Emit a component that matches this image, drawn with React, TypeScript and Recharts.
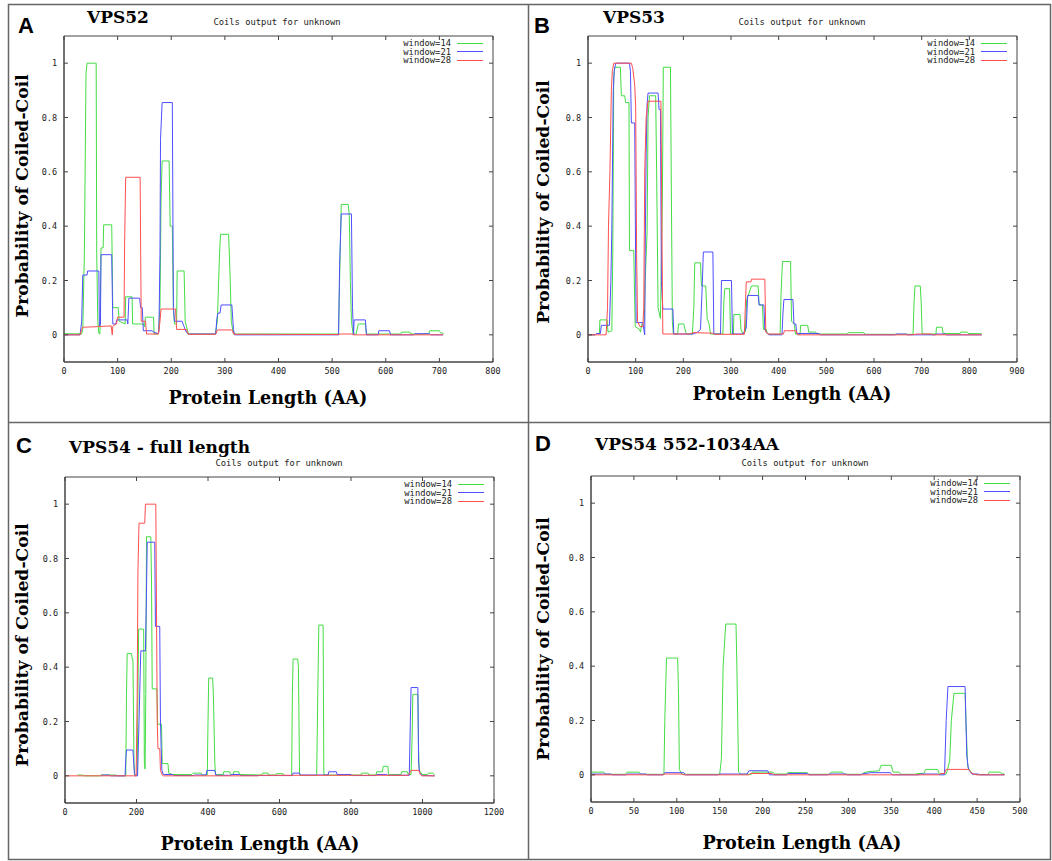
import { LineChart, Line, XAxis, YAxis, Legend, ReferenceArea, ReferenceLine } from 'recharts';

type Pt = [number, number];

const seriesNames = ['window=14', 'window=21', 'window=28'];
const seriesColors = ['#44dd44', '#4f4fff', '#ff4f4f'];
const yTicks = [0, 0.2, 0.4, 0.6, 0.8, 1];
const yDomain: [number, number] = [-0.1, 1.1];

// VPS52
const vps52XTicks = [0, 100, 200, 300, 400, 500, 600, 700, 800];
const vps52W14: Pt[] = [[0,0.004],[30,0.004],[33,0.003],[35,0.02],[38,0.3],[41,0.96],[43,1],[60,1],[61,0.3],[63,0.05],[65,0.005],[67,0.003],[69,0.32],[73,0.32],[74,0.405],[89,0.405],[91,0.1],[101,0.1],[103,0.05],[114,0.04],[115,0.14],[127,0.14],[128,0.04],[148,0.04],[150,0.03],[152,0.065],[167,0.065],[168,0.003],[176,0.003],[179,0.1],[181,0.5],[183,0.64],[196,0.64],[198,0.4],[202,0.4],[204,0.1],[206,0.04],[210,0.04],[211,0.235],[224,0.235],[226,0.05],[232,0.003],[282,0.003],[286,0.05],[290,0.3],[292,0.37],[307,0.37],[310,0.2],[312,0.05],[316,0.003],[512,0.003],[515,0.3],[517,0.48],[530,0.48],[532,0.44],[534,0.2],[536,0.05],[539,0.003],[545,0.003],[547,0.025],[549,0.04],[562,0.04],[564,0.003],[628,0.003],[630,0.01],[645,0.01],[647,0.003],[680,0.003],[682,0.015],[700,0.015],[702,0.008],[708,0.005]];
const vps52W21: Pt[] = [[0,0],[30,0],[33,0.05],[35,0.22],[43,0.22],[44,0.235],[65,0.235],[66,0.03],[68,0.04],[69,0.295],[89,0.295],[91,0.04],[97,0.04],[98,0.055],[118,0.055],[119,0.04],[121,0.135],[141,0.135],[143,0.1],[146,0.1],[148,0.015],[165,0.015],[167,0.01],[175,0.005],[177,0.01],[179,0.3],[180,0.72],[183,0.855],[202,0.855],[204,0.1],[206,0.05],[220,0.05],[224,0.03],[228,0.01],[232,0.003],[283,0.003],[285,0.06],[287,0.08],[291,0.08],[293,0.11],[313,0.11],[316,0.02],[318,0],[512,0],[514,0.26],[517,0.445],[536,0.445],[538,0.1],[540,0],[541,0.055],[562,0.055],[564,0],[586,0],[587,0.015],[607,0.015],[609,0],[652,0],[654,0.004],[682,0.004],[684,0],[707,0]];
const vps52W28: Pt[] = [[0,0],[30,0],[33,0.02],[35,0.028],[62,0.03],[88,0.033],[89,0.015],[90,0],[91,0.03],[93,0.035],[98,0.04],[100,0.065],[112,0.065],[113,0.33],[115,0.58],[142,0.58],[143,0.3],[144,0.05],[152,0.05],[154,0.003],[176,0.003],[179,0.05],[181,0.095],[208,0.095],[210,0.02],[228,0.02],[232,0.002],[283,0.002],[286,0.018],[313,0.018],[317,0.002],[512,0.001],[515,0.003],[537,0.003],[540,0],[707,0]];

// VPS53
const vps53XTicks = [0, 100, 200, 300, 400, 500, 600, 700, 800, 900];
const vps53W14: Pt[] = [[0,0],[15,0],[18,0.005],[24,0.005],[25,0.055],[40,0.055],[42,0.01],[50,0.015],[52,0.3],[54,0.95],[56,0.985],[68,0.985],[70,0.88],[77,0.88],[79,0.855],[86,0.855],[87,0.31],[96,0.31],[99,0.03],[108,0.02],[110,0.01],[113,0.04],[118,0.05],[120,0.2],[124,0.38],[126,0.8],[129,0.88],[142,0.88],[144,0.6],[147,0.1],[152,0.06],[156,0.5],[158,0.985],[173,0.985],[175,0.5],[177,0.05],[179,0.003],[188,0.003],[190,0.04],[201,0.04],[205,0.01],[207,0.003],[219,0.003],[222,0.1],[224,0.265],[236,0.265],[238,0.18],[247,0.18],[250,0.06],[254,0.04],[257,0.003],[283,0.003],[285,0.12],[287,0.17],[297,0.17],[299,0.003],[305,0.003],[306,0.075],[319,0.075],[321,0.02],[325,0.003],[330,0.01],[333,0.13],[343,0.18],[357,0.18],[359,0.11],[366,0.11],[368,0.02],[374,0.02],[376,0.005],[380,0.002],[403,0.002],[405,0.15],[408,0.27],[425,0.27],[427,0.05],[433,0.04],[435,0.003],[445,0.003],[446,0.035],[461,0.035],[463,0.01],[478,0.01],[480,0.003],[544,0.003],[546,0.008],[579,0.008],[581,0.002],[682,0.002],[684,0.12],[686,0.18],[697,0.18],[699,0.12],[701,0.003],[730,0.003],[731,0.028],[743,0.028],[745,0.005],[781,0.005],[782,0.01],[796,0.01],[798,0.005],[826,0.004]];
const vps53W21: Pt[] = [[0,0],[15,0],[18,0.005],[26,0.005],[28,0.035],[45,0.035],[48,0.2],[50,0.39],[53,0.9],[55,0.97],[58,1],[87,1],[89,0.97],[91,0.78],[98,0.78],[100,0.25],[101,0.045],[115,0.045],[117,0.02],[119,0],[120,0.3],[122,0.67],[124,0.85],[126,0.89],[147,0.89],[149,0.83],[152,0.83],[154,0.2],[157,0.095],[178,0.095],[180,0.003],[220,0.003],[230,0.01],[236,0.02],[239,0.15],[242,0.305],[262,0.305],[264,0.003],[278,0.003],[280,0.2],[301,0.2],[303,0.003],[325,0.003],[332,0.025],[335,0.145],[357,0.145],[359,0.11],[369,0.11],[371,0.02],[376,0.005],[380,0],[407,0],[409,0.08],[411,0.13],[430,0.13],[432,0.04],[436,0.04],[438,0.005],[485,0.005],[487,0],[645,0],[646,0.003],[668,0.003],[670,0],[729,0],[730,0.003],[750,0.003],[752,0],[826,0]];
const vps53W28: Pt[] = [[0,0],[38,0],[41,0.1],[43,0.4],[46,0.6],[49,0.9],[51,0.97],[54,1],[91,1],[94,0.98],[98,0.92],[100,0.84],[102,0.3],[104,0.05],[109,0.03],[115,0.03],[117,0.1],[119,0.6],[122,0.8],[126,0.86],[153,0.86],[155,0.4],[157,0.003],[213,0.003],[220,0.008],[262,0.006],[265,0.002],[328,0.002],[330,0.1],[332,0.195],[342,0.195],[343,0.205],[371,0.205],[373,0.01],[378,0.003],[410,0.003],[412,0.015],[437,0.015],[440,0],[680,0],[690,0.003],[720,0.003],[722,0],[826,0]];

// VPS54 full length
const vps54XTicks = [0, 200, 400, 600, 800, 1000, 1200];
const vps54W14: Pt[] = [[35,0.003],[50,0.003],[52,0],[97,0],[100,0.003],[144,0.003],[146,0],[170,0],[172,0.3],[174,0.45],[186,0.45],[188,0.43],[190,0.43],[193,0.05],[195,0.003],[202,0.003],[204,0.3],[206,0.54],[220,0.54],[222,0.05],[224,0.025],[226,0.3],[228,0.88],[240,0.88],[242,0.72],[244,0.32],[257,0.32],[259,0.19],[270,0.19],[272,0.045],[288,0.045],[290,0.01],[300,0.005],[355,0.005],[358,0.01],[381,0.01],[383,0.003],[398,0.003],[400,0.2],[402,0.36],[413,0.36],[415,0.3],[419,0.05],[421,0.005],[443,0.005],[444,0.015],[461,0.015],[463,0.005],[471,0.005],[472,0.015],[486,0.015],[488,0.005],[550,0.003],[553,0.01],[568,0.01],[570,0.003],[590,0.003],[591,0.008],[610,0.008],[612,0.001],[634,0.001],[636,0.3],[638,0.43],[651,0.43],[653,0.4],[656,0.01],[658,0.001],[704,0.001],[707,0.3],[710,0.555],[722,0.555],[724,0.005],[740,0.003],[828,0.003],[830,0.01],[848,0.01],[850,0.003],[870,0.003],[872,0.015],[888,0.015],[890,0.035],[903,0.035],[905,0.005],[940,0.005],[942,0.015],[958,0.015],[960,0.005],[968,0.005],[971,0.15],[973,0.3],[987,0.3],[989,0.1],[991,0.02],[999,0.005],[1014,0.005],[1016,0.01],[1029,0.01],[1034,0.003]];
const vps54W21: Pt[] = [[100,0],[104,0.003],[125,0.003],[127,0],[168,0],[170,0.06],[172,0.095],[190,0.095],[194,0.01],[196,0],[203,0],[207,0.2],[212,0.46],[225,0.46],[227,0.6],[230,0.86],[251,0.86],[253,0.55],[265,0.55],[267,0.21],[269,0.1],[271,0.02],[275,0.005],[302,0.005],[304,0.001],[360,0.001],[362,0.003],[395,0.003],[397,0.02],[419,0.02],[422,0.002],[465,0.002],[466,0.005],[489,0.005],[491,0.001],[636,0.001],[638,0.01],[656,0.01],[658,0.003],[736,0.003],[738,0.015],[759,0.015],[761,0.005],[800,0.005],[802,0.001],[870,0.001],[872,0.005],[900,0.005],[902,0.002],[963,0.002],[966,0.2],[968,0.325],[987,0.325],[989,0.05],[992,0.01],[1000,0.001],[1034,0]];
const vps54W28: Pt[] = [[0,0],[199,0],[202,0.3],[204,0.75],[207,0.93],[223,0.93],[225,1],[254,1],[256,0.6],[258,0.2],[260,0.1],[265,0.1],[267,0.02],[272,0.003],[275,0],[540,0],[545,0.002],[960,0.002],[964,0.01],[968,0.02],[990,0.02],[994,0.005],[998,0],[1034,0]];

// VPS54 552-1034AA
const vps54cXTicks = [0, 50, 100, 150, 200, 250, 300, 350, 400, 450, 500];
const vps54cW14: Pt[] = [[0,0.01],[15,0.01],[17,0.002],[40,0.002],[42,0.01],[56,0.01],[58,0.002],[85,0.002],[86,0.2],[88,0.43],[101,0.43],[102,0.3],[103,0.02],[106,0.002],[150,0.002],[152,0.06],[154,0.4],[157,0.555],[169,0.555],[170,0.4],[172,0.01],[175,0.002],[187,0.002],[188,0.01],[212,0.01],[214,0.003],[228,0.003],[229,0.008],[252,0.008],[254,0.002],[278,0.002],[280,0.01],[293,0.01],[295,0.002],[316,0.002],[318,0.008],[324,0.012],[336,0.015],[338,0.035],[350,0.035],[352,0.01],[359,0.01],[361,0.002],[378,0.002],[380,0.005],[388,0.005],[390,0.02],[404,0.02],[406,0.003],[414,0.003],[418,0.05],[420,0.2],[423,0.3],[436,0.3],[437,0.2],[439,0.03],[443,0.01],[446,0.001],[463,0.001],[464,0.01],[477,0.01],[479,0.004],[482,0.003]];
const vps54cW21: Pt[] = [[0,0.003],[23,0.003],[25,0],[41,0],[42,0.003],[64,0.003],[66,0],[84,0],[86,0.008],[108,0.008],[110,0],[148,0],[150,0.003],[182,0.003],[184,0.015],[206,0.015],[208,0],[228,0],[230,0.005],[252,0.005],[254,0],[276,0],[278,0.003],[297,0.003],[299,0],[314,0],[316,0.003],[326,0.008],[349,0.008],[351,0],[382,0],[384,0.003],[404,0.003],[406,0],[412,0],[414,0.2],[416,0.325],[436,0.325],[438,0.07],[440,0.02],[444,0.003],[451,0.003],[453,0],[482,0]];
const vps54cW28: Pt[] = [[0,0],[84,0],[86,0.003],[106,0.003],[108,0],[184,0],[186,0.005],[211,0.005],[213,0],[405,0],[408,0.005],[412,0.005],[414,0.02],[440,0.02],[444,0.005],[449,0],[482,0]];

const mono = '"DejaVu Sans Mono", monospace';
const serif = '"DejaVu Serif", serif';
const sans = '"Liberation Sans", Arial, sans-serif';
const axisColor = '#444';
const TICK = 4;

const panels = [
  { key: 'A', left: 0, top: 0, width: 526, height: 420, margin: { top: 36, right: 33, left: 0, bottom: 38 }, yw: 64, xMax: 800, xTicks: vps52XTicks, series: [vps52W14, vps52W21, vps52W28] },
  { key: 'B', left: 526, top: 0, width: 526, height: 420, margin: { top: 36, right: 35, left: 0, bottom: 38 }, yw: 62, xMax: 900, xTicks: vps53XTicks, series: [vps53W14, vps53W21, vps53W28] },
  { key: 'C', left: 0, top: 420, width: 526, height: 441, margin: { top: 57, right: 32, left: 0, bottom: 38 }, yw: 65, xMax: 1200, xTicks: vps54XTicks, series: [vps54W14, vps54W21, vps54W28] },
  { key: 'D', left: 526, top: 420, width: 526, height: 441, margin: { top: 56, right: 32, left: 0, bottom: 39 }, yw: 65, xMax: 500, xTicks: vps54cXTicks, series: [vps54cW14, vps54cW21, vps54cW28] },
];

const labels = [
  { letter: 'A', lx: 18, ly: 33, title: 'VPS52', tx: 87, ty: 23, cx: 277, cy: 25, yx: 28, yy: 196, xx: 268, xy: 404 },
  { letter: 'B', lx: 534, ly: 33, title: 'VPS53', tx: 603, ty: 23, cx: 802, cy: 25, yx: 549, yy: 202, xx: 792, xy: 400 },
  { letter: 'C', lx: 16, ly: 453, title: 'VPS54 - full length', tx: 69, ty: 453, cx: 279, cy: 466, yx: 28, yy: 645, xx: 260, xy: 850 },
  { letter: 'D', lx: 535, ly: 451, title: 'VPS54 552-1034AA', tx: 595, ty: 450, cx: 805, cy: 466, yx: 549, yy: 639, xx: 802, xy: 849 },
];

const renderLegend = (props: any) => (
  <div style={{ fontFamily: mono, fontSize: 8.8, color: '#222' }}>
    {(props.payload || []).filter((p: any) => seriesNames.includes(p.value)).map((p: any) => (
      <div key={p.value} style={{ display: 'flex', alignItems: 'center', justifyContent: 'flex-end', height: 8.5 }}>
        <span style={{ lineHeight: '8.5px' }}>{p.value}</span>
        <svg width={32} height={3} style={{ display: 'block' }}>
          <line x1={6} y1={1.5} x2={32} y2={1.5} stroke={seriesColors[seriesNames.indexOf(p.value)]} strokeWidth={1} />
        </svg>
      </div>
    ))}
  </div>
);

const toPoints = (s: Pt[]) => s.map(([x, y]) => ({ x, y }));

function Panel({ p }: { p: (typeof panels)[number] }) {
  const plotW = p.width - p.margin.right - p.yw;
  const plotH = p.height - p.margin.top - p.margin.bottom - 20;
  const plotRight = p.width - p.margin.right;
  // inward tick length on the mirrored (top / right) sides, in data units
  const dy = (TICK / plotH) * (yDomain[1] - yDomain[0]);
  const dx = (TICK / plotW) * p.xMax;
  const tickStyle = { fontFamily: mono, fontSize: 8.5, fill: '#222' };
  return (
    <div style={{ position: 'absolute', left: p.left, top: p.top }}>
      <LineChart width={p.width} height={p.height} margin={p.margin}>
        <XAxis dataKey="x" type="number" domain={[0, p.xMax]} ticks={p.xTicks} interval={0} allowDataOverflow
          height={20} tickSize={-TICK} tickMargin={10} stroke={axisColor} tick={tickStyle} />
        <YAxis type="number" domain={yDomain} ticks={yTicks} interval={0} allowDataOverflow
          width={p.yw} tickSize={-TICK} tickMargin={11} stroke={axisColor} tick={tickStyle} />
        <ReferenceArea x1={0} x2={p.xMax} y1={yDomain[0]} y2={yDomain[1]} fill="none" stroke={axisColor} strokeWidth={1} />
        {p.xTicks.map(t => (
          <ReferenceLine key={'tx' + t} segment={[{ x: t, y: yDomain[1] }, { x: t, y: yDomain[1] - dy }]} stroke={axisColor} />
        ))}
        {yTicks.map(t => (
          <ReferenceLine key={'ty' + t} segment={[{ x: p.xMax, y: t }, { x: p.xMax - dx, y: t }]} stroke={axisColor} />
        ))}
        <Legend layout="vertical" align="center" verticalAlign="middle" content={renderLegend}
          wrapperStyle={{ left: plotRight - 100, top: p.margin.top + 3, width: 90 }} />
        {p.series.map((s, i) => (
          <Line key={seriesNames[i]} name={seriesNames[i]} data={toPoints(s)} dataKey="y" type="linear"
            stroke={seriesColors[i]} strokeWidth={1} dot={false} activeDot={false} isAnimationActive={false} />
        ))}
      </LineChart>
    </div>
  );
}

export default function App() {
  return (
    <div style={{ position: 'absolute', left: 0, top: 0, width: 1052, height: 861, background: '#fff' }}>
      {panels.map(p => <Panel key={p.key} p={p} />)}
      <svg width={1052} height={861} style={{ position: 'absolute', left: 0, top: 0, pointerEvents: 'none' }}>
        <rect x={8.5} y={4.5} width={1042} height={855} fill="none" stroke="#666" strokeWidth={1.5} />
        <line x1={528.5} y1={4.5} x2={528.5} y2={859.5} stroke="#666" strokeWidth={1.5} />
        <line x1={8.5} y1={422.5} x2={1050.5} y2={422.5} stroke="#666" strokeWidth={1.5} />
        {labels.map(l => (
          <g key={l.letter}>
            <text x={l.lx} y={l.ly} fontFamily={sans} fontWeight="bold" fontSize={22} fill="#000">{l.letter}</text>
            <text x={l.tx} y={l.ty} fontFamily={serif} fontWeight="bold" fontSize={17} fill="#000">{l.title}</text>
            <text x={l.cx} y={l.cy} fontFamily={mono} fontSize={8.8} fill="#222" textAnchor="middle">Coils output for unknown</text>
            <text transform={`translate(${l.yx},${l.yy}) rotate(-90)`} fontFamily={serif} fontWeight="bold" fontSize={17.2} fill="#000" textAnchor="middle">Probability of Coiled-Coil</text>
            <text x={l.xx} y={l.xy} fontFamily={serif} fontWeight="bold" fontSize={17.6} fill="#000" textAnchor="middle">Protein Length (AA)</text>
          </g>
        ))}
      </svg>
    </div>
  );
}
